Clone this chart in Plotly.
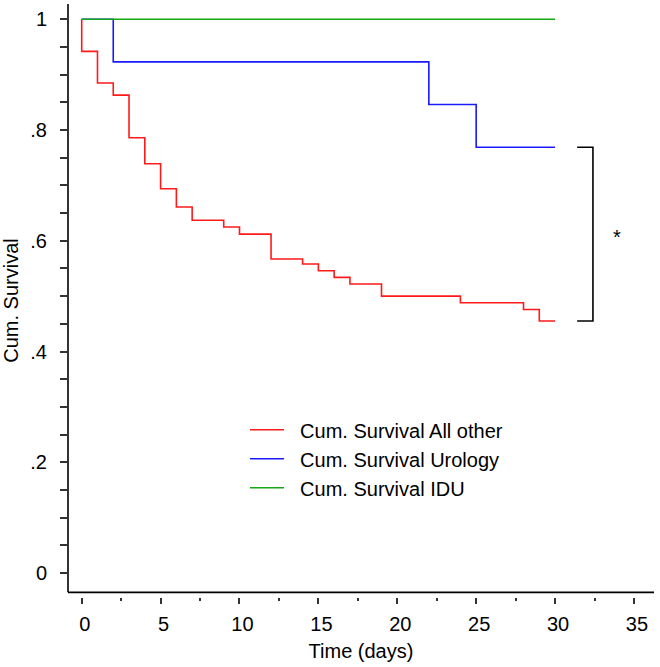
import plotly.graph_objects as go

# ---- data ----
other_t = [0, 0, 1, 2, 3, 4, 5, 6, 7, 9, 10, 12, 14, 15, 16, 17, 19, 24, 28, 29, 30]
other_s = [1.0, 0.942, 0.885, 0.863, 0.786, 0.739, 0.694, 0.661, 0.637, 0.625, 0.612,
           0.567, 0.558, 0.546, 0.534, 0.522, 0.500, 0.488, 0.476, 0.455, 0.455]

uro_t = [0, 2, 22, 25, 30]
uro_s = [1.0, 0.923, 0.846, 0.769, 0.769]

idu_t = [0, 30]
idu_s = [1.0, 1.0]

names = ["Cum. Survival All other", "Cum. Survival Urology", "Cum. Survival IDU"]
colors = ["#ff1a1a", "#1a1aff", "#14a814"]

x_ticks = [0, 5, 10, 15, 20, 25, 30, 35]
y_ticks = [0, 0.2, 0.4, 0.6, 0.8, 1.0]
y_ticktext = ["0", ".2", ".4", ".6", ".8", "1"]

x_title = "Time (days)"
y_title = "Cum. Survival"
sig_mark = "*"

FONT = "Liberation Sans, Arial, sans-serif"
FS = 20
PAD = "&nbsp;&nbsp;"  # gap between legend line sample and its text

fig = go.Figure()
for t, s, n, c in zip([other_t, uro_t, idu_t], [other_s, uro_s, idu_s], names, colors):
    fig.add_trace(go.Scatter(x=t, y=s, mode="lines", name=PAD + n,
                             line=dict(color=c, width=1.6, shape="hv")))

# significance bracket between final survival values
top = uro_s[-1]
bot = other_s[-1]
bx, barm = 32.4, 31.4
fig.add_trace(go.Scatter(x=[barm, bx, bx, barm], y=[top, top, bot, bot], mode="lines",
                         line=dict(color="black", width=1.6), showlegend=False,
                         hoverinfo="skip"))
fig.add_annotation(x=33.95, y=(top + bot) / 2, text=sig_mark, showarrow=False,
                   font=dict(family=FONT, size=FS, color="black"), yshift=-3)

x_lo, x_hi = -0.868, 36.27
y_lo, y_hi = -0.0433, 1.0276
axis_y = -0.0349

# axis lines (x axis line detached above its ticks, as in the reference)
fig.add_shape(type="line", xref="paper", yref="y", x0=0, x1=1, y0=axis_y, y1=axis_y,
              line=dict(color="black", width=1.6))
fig.add_shape(type="line", xref="paper", yref="paper", x0=0, x1=0, y0=0.0079, y1=1,
              line=dict(color="black", width=1.6))

fig.update_layout(
    width=660, height=667,
    margin=dict(l=68, r=6, t=4, b=70, autoexpand=False),
    paper_bgcolor="white", plot_bgcolor="white",
    font=dict(family=FONT, size=FS, color="black"),
    showlegend=True,
    legend=dict(x=(250 - 68 - 5) / 586, y=1 - (410.3 - 4) / 593, xanchor="left", yanchor="top",
                bgcolor="rgba(0,0,0,0)", font=dict(family=FONT, size=FS, color="black"),
                itemwidth=34, tracegroupgap=0),
    xaxis=dict(range=[x_lo, x_hi], showgrid=False, zeroline=False, showline=False,
               automargin=False,
               tickmode="array", tickvals=x_ticks, ticks="outside", ticklen=6,
               tickwidth=1.5, tickcolor="#333", ticklabelstandoff=3, ticklabelshift=3,
               minor=dict(dtick=2.5, tick0=0, ticks="outside", ticklen=3, tickwidth=1.5,
                          tickcolor="#333"),
               title=dict(text=x_title, standoff=9, font=dict(family=FONT, size=FS))),
    yaxis=dict(range=[y_lo, y_hi], showgrid=False, zeroline=False, showline=False,
               automargin=False,
               tickmode="array", tickvals=y_ticks, ticktext=y_ticktext, ticks="outside",
               ticklen=7, tickwidth=1.5, tickcolor="#333", ticklabelstandoff=9,
               minor=dict(dtick=0.05, tick0=0, ticks="outside", ticklen=7, tickwidth=1.5,
                          tickcolor="#333"),
               title=dict(text=y_title, standoff=10, font=dict(family=FONT, size=FS))),
)

fig.write_html("out.html", config={"displayModeBar": False},
               post_script="document.body.style.margin='0';")
